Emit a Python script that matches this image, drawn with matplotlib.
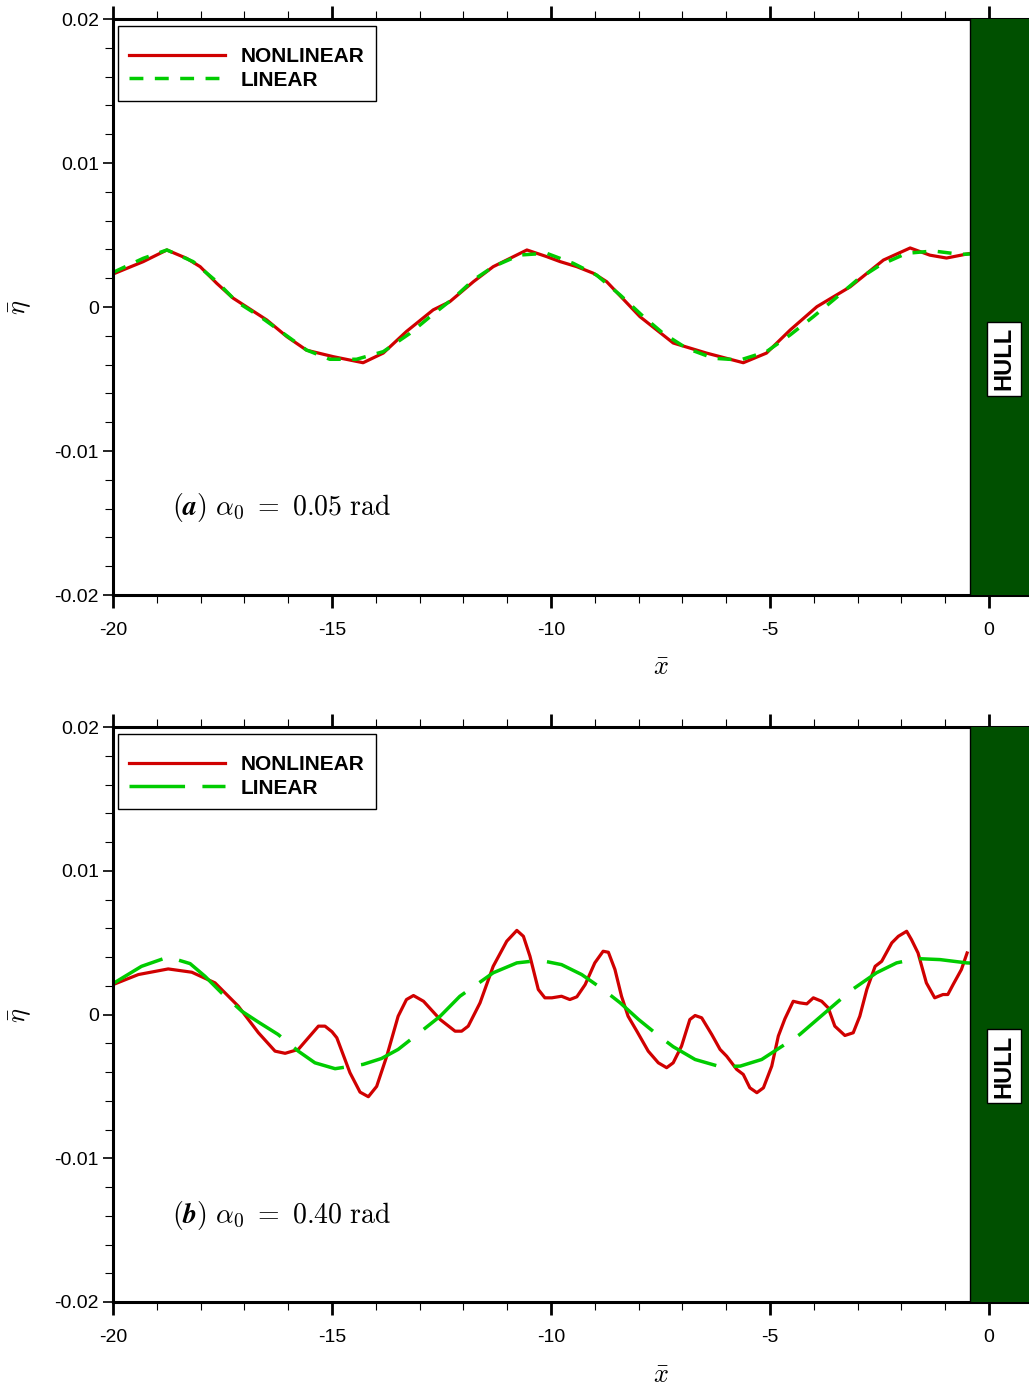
import numpy as np
import matplotlib
matplotlib.use("Agg")
import matplotlib.pyplot as plt
from matplotlib.ticker import MultipleLocator, FixedLocator, FixedFormatter
from matplotlib.lines import Line2D

plt.rcParams['font.family'] = ['Liberation Sans', 'DejaVu Sans']
plt.rcParams['mathtext.fontset'] = 'cm'

# ---- (a) alpha0 = 0.05 rad ----
x_nl_a = [-20.00, -19.31, -18.77, -18.32, -18.01, -17.63, -17.26, -16.49, -16.03,
          -15.58, -14.97, -14.29, -13.83, -13.30, -12.69, -12.31, -11.77, -11.32,
          -10.55, -10.10, -9.79, -9.41, -9.03, -8.73, -7.97, -7.21, -6.45, -5.61,
          -5.08, -4.54, -3.93, -3.17, -2.41, -1.80, -1.35, -0.97, -0.47]
y_nl_a = [0.00229, 0.00315, 0.00396, 0.00338, 0.00280, 0.00164, 0.00062, -0.00090, -0.00206,
          -0.00300, -0.00345, -0.00387, -0.00320, -0.00170, -0.00020, 0.00037, 0.00176, 0.00280,
          0.00396, 0.00350, 0.00315, 0.00280, 0.00234, 0.00176, -0.00067, -0.00250, -0.00320, -0.00387,
          -0.00320, -0.00160, 0.00002, 0.00140, 0.00326, 0.00410, 0.00360, 0.00340, 0.00370]

x_li_a = [-20.00, -19.31, -18.77, -18.17, -17.63, -17.18, -16.64, -16.11, -15.58, -15.05,
          -14.44, -13.83, -13.22, -12.76, -12.23, -11.77, -11.32, -10.71, -10.10, -9.49,
          -8.96, -8.42, -7.89, -7.44, -6.90, -6.29, -5.68, -5.08, -4.54, -4.01, -3.55,
          -3.01, -2.48, -1.88, -1.27, -0.66, -0.43]
y_li_a = [0.00240, 0.00338, 0.00396, 0.00315, 0.00176, 0.00037, -0.00067, -0.00183, -0.00299, -0.00363,
          -0.00363, -0.00310, -0.00183, -0.00067, 0.00060, 0.00188, 0.00280, 0.00361, 0.00373, 0.00303,
          0.00222, 0.00083, -0.00067, -0.00183, -0.00287, -0.00356, -0.00368, -0.00310, -0.00194, -0.00067, 0.00049,
          0.00188, 0.00292, 0.00373, 0.00389, 0.00366, 0.00368]

# ---- (b) alpha0 = 0.40 rad ----
x_nl_b = [-20.00, -19.42, -18.74, -18.20, -17.67, -17.14, -16.68, -16.30, -16.07, -15.77,
          -15.31, -15.16, -15.00, -14.89, -14.59, -14.36, -14.17, -13.98, -13.75, -13.49,
          -13.30, -13.14, -12.91, -12.53, -12.19, -12.04, -11.89, -11.62, -11.32, -11.01,
          -10.78, -10.63, -10.48, -10.29, -10.14, -9.98, -9.76, -9.57, -9.41, -9.22,
          -9.00, -8.81, -8.69, -8.54, -8.39, -8.24, -8.04, -7.78, -7.55, -7.36,
          -7.21, -7.02, -6.83, -6.71, -6.56, -6.33, -6.14, -5.99, -5.76, -5.61,
          -5.46, -5.30, -5.15, -4.96, -4.81, -4.66, -4.47, -4.32, -4.16, -4.01,
          -3.82, -3.67, -3.52, -3.29, -3.10, -2.95, -2.79, -2.60, -2.45, -2.22,
          -2.07, -1.88, -1.77, -1.62, -1.43, -1.24, -1.05, -0.94, -0.82, -0.63, -0.50]
y_nl_b = [0.00208, 0.00278, 0.00317, 0.00294, 0.00220, 0.00058, -0.00127, -0.00255, -0.00270, -0.00243,
          -0.00081, -0.00081, -0.00120, -0.00162, -0.00405, -0.00540, -0.00572, -0.00500, -0.00290, -0.00012,
          0.00104, 0.00132, 0.00092, -0.00035, -0.00116, -0.00116, -0.00081, 0.00081, 0.00335, 0.00510,
          0.00585, 0.00544, 0.00405, 0.00174, 0.00116, 0.00116, 0.00127, 0.00104, 0.00123, 0.00208,
          0.00359, 0.00440, 0.00433, 0.00313, 0.00127, -0.00012, -0.00116, -0.00255, -0.00336, -0.00370,
          -0.00336, -0.00220, -0.00035, -0.00007, -0.00023, -0.00139, -0.00243, -0.00290, -0.00382, -0.00417,
          -0.00510, -0.00544, -0.00510, -0.00359, -0.00150, -0.00030, 0.00092, 0.00081, 0.00074, 0.00116,
          0.00092, 0.00046, -0.00081, -0.00146, -0.00127, -0.00012, 0.00174, 0.00335, 0.00370, 0.00498,
          0.00544, 0.00579, 0.00521, 0.00428, 0.00220, 0.00116, 0.00139, 0.00139, 0.00208, 0.00313, 0.00428]

x_li_b = [-20.00, -19.35, -18.74, -18.24, -17.90, -17.52, -17.06, -16.68, -16.23, -15.77,
          -15.39, -14.93, -14.29, -13.87, -13.49, -12.91, -12.53, -12.08, -11.70, -11.32,
          -10.78, -10.25, -9.76, -9.30, -8.81, -8.42, -8.00, -7.55, -7.21, -6.71,
          -6.14, -5.68, -5.19, -4.66, -4.32, -3.44, -3.10, -2.57, -2.11, -1.65,
          -1.12, -0.51, -0.43]
y_li_b = [0.00215, 0.00335, 0.00400, 0.00354, 0.00266, 0.00150, 0.00023, -0.00053, -0.00139, -0.00255,
          -0.00336, -0.00377, -0.00347, -0.00306, -0.00243, -0.00104, -0.00012, 0.00127, 0.00208, 0.00290,
          0.00359, 0.00377, 0.00347, 0.00278, 0.00174, 0.00081, -0.00035, -0.00146, -0.00224, -0.00313,
          -0.00363, -0.00359, -0.00313, -0.00208, -0.00139, 0.00092, 0.00178, 0.00290, 0.00359, 0.00389,
          0.00382, 0.00359, 0.00358]

x_major = [-20, -15, -10, -5, 0]
x_major_labels = ['-20', '-15', '-10', '-5', '0']
y_major = [-0.02, -0.01, 0.0, 0.01, 0.02]
y_major_labels = ['-0.02', '-0.01', '0', '0.01', '0.02']
hull_start = -0.43
panel_labels = [r'$(\mathbfit{a})\ \alpha_0\ =\ 0.05\ \mathrm{rad}$',
                r'$(\mathbfit{b})\ \alpha_0\ =\ 0.40\ \mathrm{rad}$']

RED = '#d00000'
GREEN = '#00cc00'
HULL_GREEN = '#005000'

W, H = 1029, 1389
fig = plt.figure(figsize=(W / 100, H / 100), dpi=100)


def rect(left, top, right, bottom):
    return [left / W, 1 - bottom / H, (right - left) / W, (bottom - top) / H]


def style_axes(ax):
    ax.set_xlim(-20, 1)
    ax.set_ylim(-0.02, 0.02)
    ax.xaxis.set_major_locator(FixedLocator(x_major))
    ax.xaxis.set_major_formatter(FixedFormatter(x_major_labels))
    ax.xaxis.set_minor_locator(MultipleLocator(1))
    ax.yaxis.set_major_locator(FixedLocator(y_major))
    ax.yaxis.set_major_formatter(FixedFormatter(y_major_labels))
    ax.yaxis.set_minor_locator(MultipleLocator(0.002))
    ax.tick_params(axis='x', which='both', direction='out', top=True, bottom=True,
                   labeltop=False, labelsize=14, pad=10)
    ax.tick_params(axis='x', which='major', length=9.5, width=2.0)
    ax.tick_params(axis='x', which='minor', length=5.5, width=0.8)
    ax.tick_params(axis='y', which='both', direction='out', left=True, right=False,
                   labelsize=14, pad=3)
    ax.tick_params(axis='y', which='major', length=7, width=1.2)
    ax.tick_params(axis='y', which='minor', length=5.5, width=0.8)
    for side in ('left', 'bottom', 'top'):
        ax.spines[side].set_linewidth(2.2)
    ax.spines['right'].set_visible(False)


panels = [
    (rect(113, 19, 1032.8, 595), x_nl_a, y_nl_a, x_li_a, y_li_a, (0, (4, 3.3))),
    (rect(113, 727, 1032.8, 1302), x_nl_b, y_nl_b, x_li_b, y_li_b, (0, (16, 5))),
]

for i, (r, xn, yn, xl, yl, dash) in enumerate(panels):
    ax = fig.add_axes(r)
    style_axes(ax)
    ax.plot(xn, yn, color=RED, lw=2.3, zorder=2, solid_joinstyle='round')
    ax.plot(xl, yl, color=GREEN, lw=2.5, linestyle=dash, zorder=2)
    ax.axvspan(hull_start, 1, color=HULL_GREEN, zorder=3, lw=0)
    ax.axvline(hull_start, color='black', lw=1.0, zorder=4)
    ax.text(0.34, -0.0036, 'HULL', rotation=90, ha='center', va='center',
            fontsize=17, fontweight='bold', zorder=5,
            bbox=dict(boxstyle='square,pad=0.22', fc='white', ec='black', lw=1.0))
    handles = [Line2D([], [], color=RED, lw=2.3),
               Line2D([], [], color=GREEN, lw=2.5, linestyle=dash)]
    leg = ax.legend(handles, ['NONLINEAR', 'LINEAR'], loc='upper left',
                    bbox_to_anchor=(5 / 919.8, 1 - 7 / 576), borderaxespad=0,
                    prop={'weight': 'bold', 'size': 15}, handlelength=4.6,
                    handletextpad=0.75, labelspacing=0.22, borderpad=0.55,
                    title=' ', title_fontsize=4,
                    fancybox=False, framealpha=1, edgecolor='black')
    leg.get_frame().set_linewidth(1.0)
    leg.set_zorder(6)

    top_px = 19 if i == 0 else 727
    fig.text(661 / W, 1 - (top_px + 649) / H, r'$\bar{x}$', fontsize=19,
             ha='center', va='center')
    fig.text(20 / W, 1 - (top_px + 288) / H, r'$\bar{\eta}$', fontsize=19,
             ha='center', va='center', rotation=90)
    fig.text(172 / W, 1 - (top_px + 488) / H, panel_labels[i], fontsize=20,
             ha='left', va='center')

fig.savefig('out.png', dpi=100)
